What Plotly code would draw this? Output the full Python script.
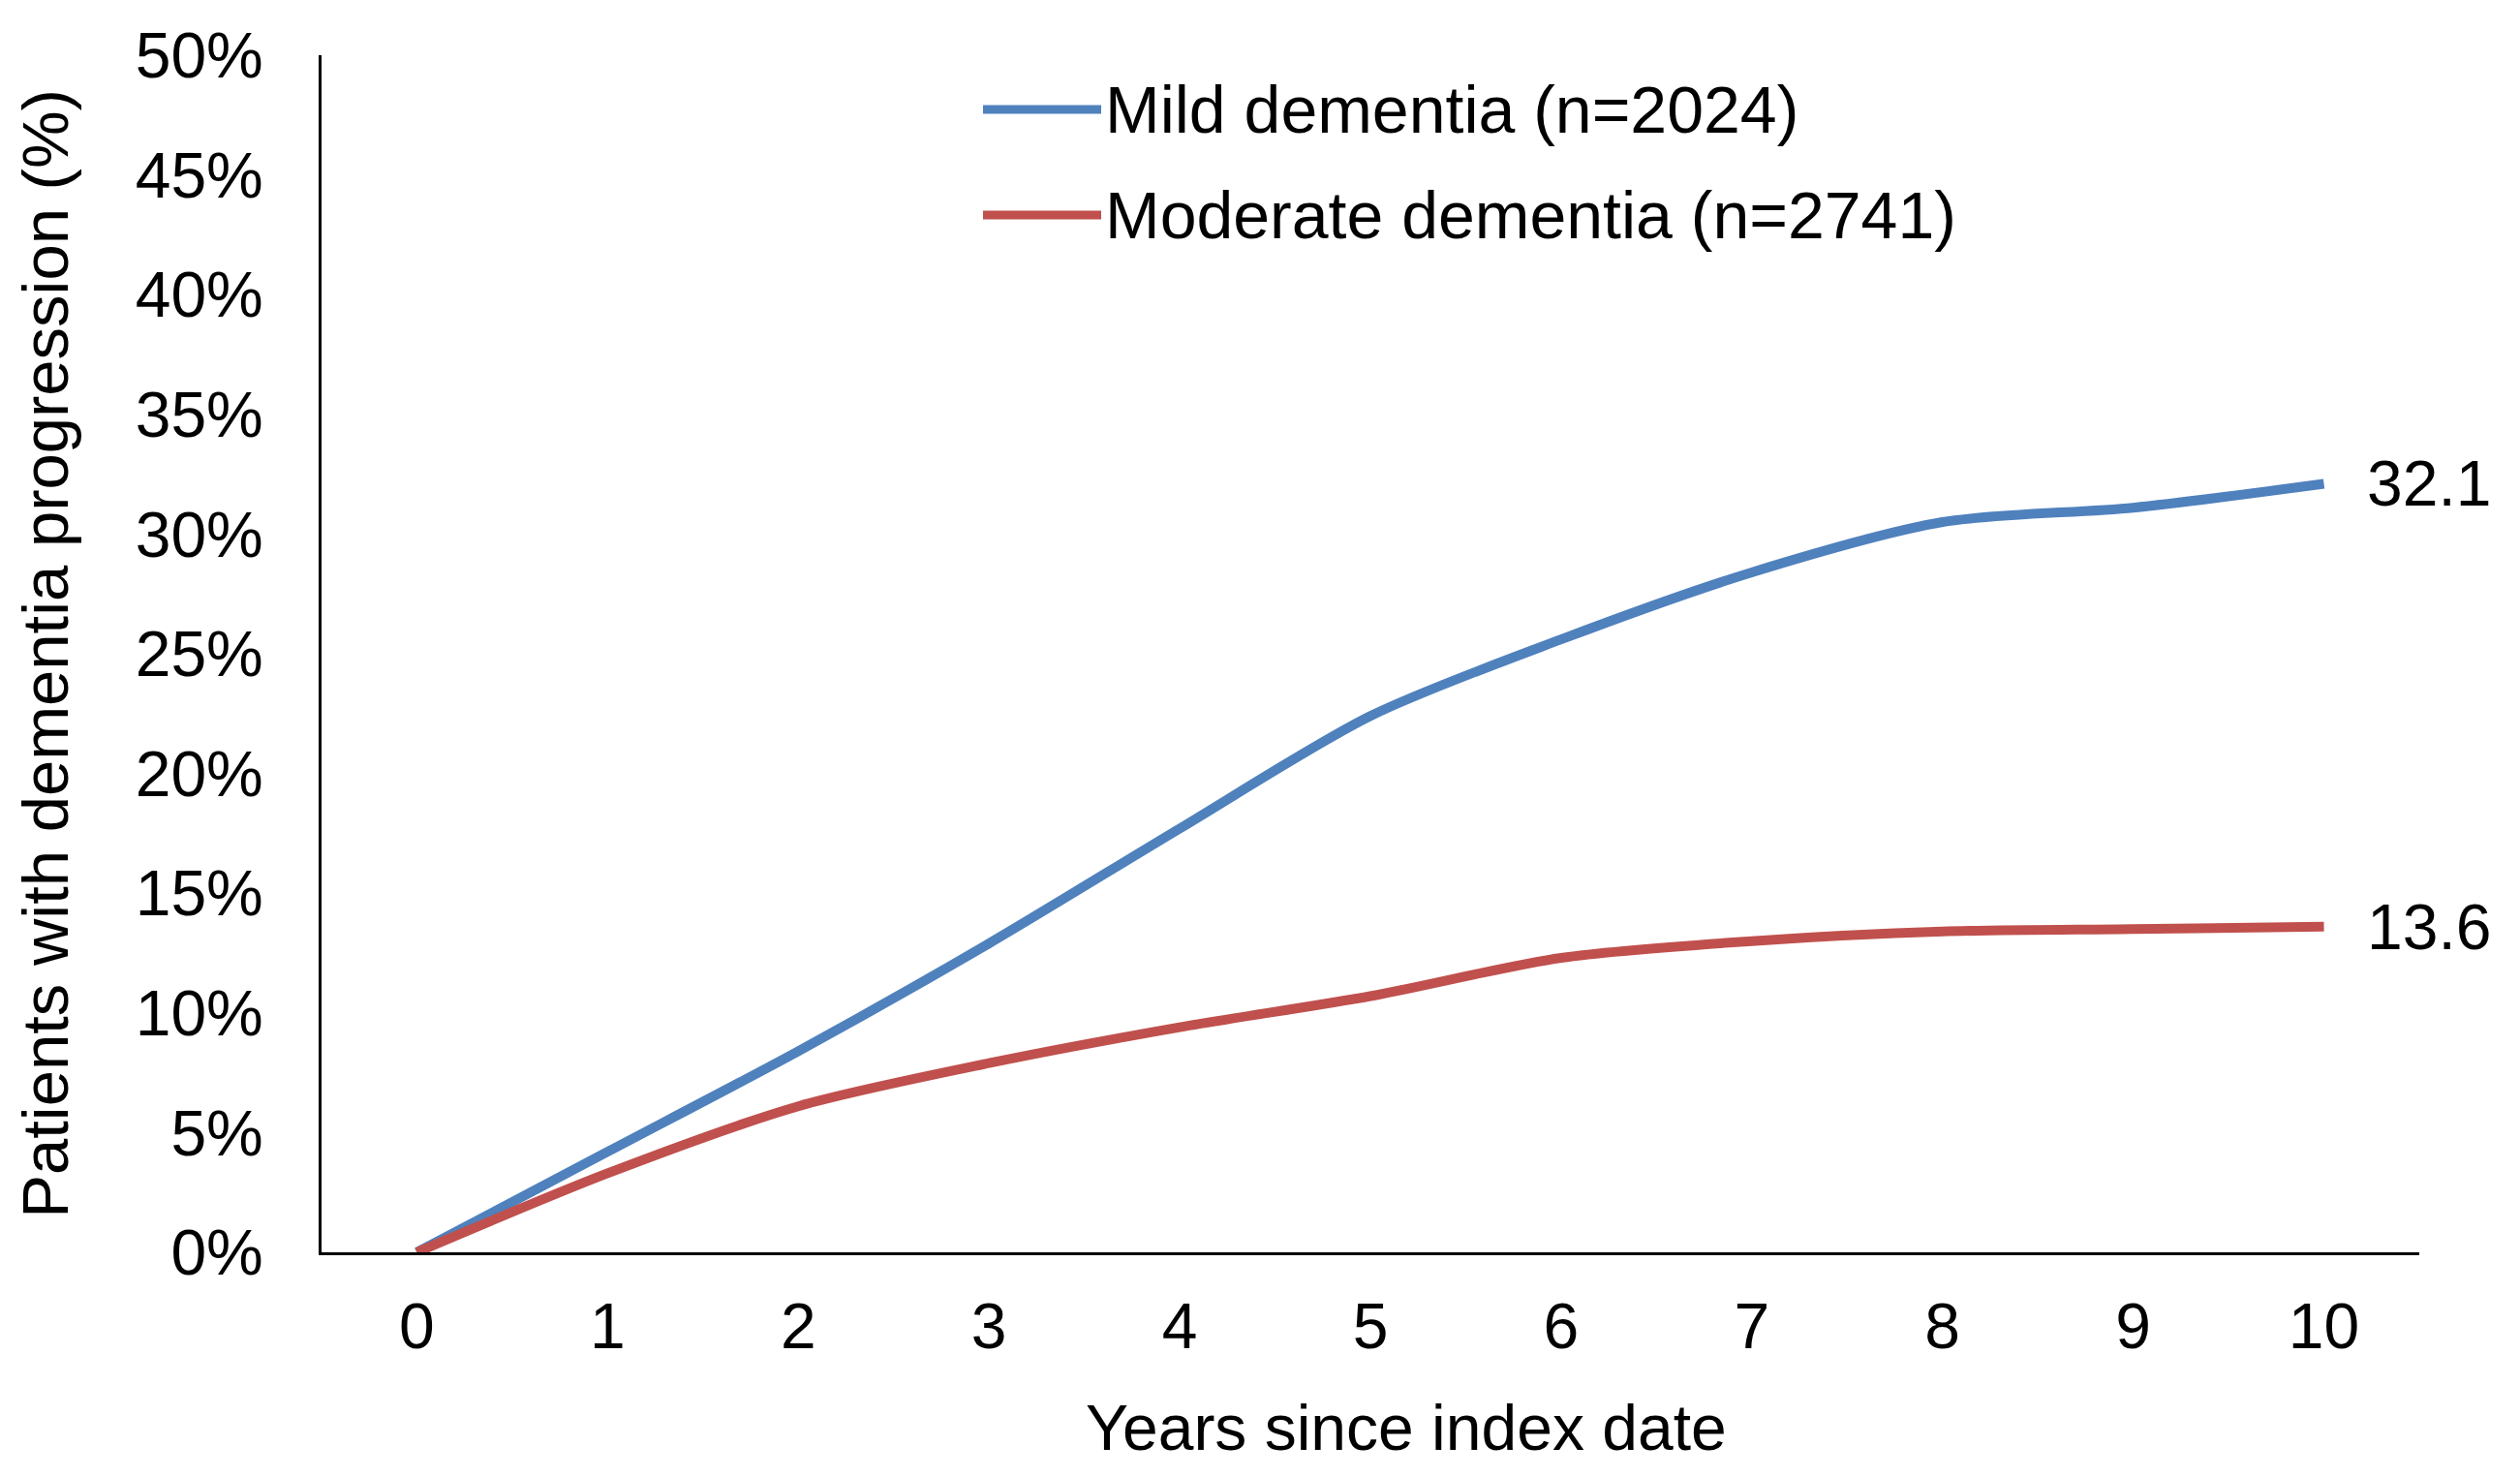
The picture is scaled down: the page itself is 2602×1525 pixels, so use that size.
import plotly.graph_objects as go

years = [0, 1, 2, 3, 4, 5, 6, 7, 8, 9, 10]
mild = [0, 4.2, 8.4, 12.9, 17.7, 22.4, 25.6, 28.4, 30.5, 31.1, 32.1]
moderate = [0, 3.3, 6.1, 7.9, 9.4, 10.7, 12.3, 13.0, 13.4, 13.5, 13.6]
series_names = ["Mild dementia (n=2024)", "Moderate dementia (n=2741)"]
series_colors = ["#4F81BD", "#C0504D"]
y_ticks = [0, 5, 10, 15, 20, 25, 30, 35, 40, 45, 50]
y_ticktext = [f"{v}%" for v in y_ticks]
x_title = "Years since index date"
y_title = "Patients with dementia progression (%)"

FONT = "Liberation Sans, Arial, sans-serif"
# page body has an 8px default margin, so the figure is 16px smaller
W, H = 2594, 1517
L, R, T, B = 324, 104, 49, 232
pw, ph = W - L - R, H - T - B
OFF = 8  # body margin offset (screen px)


def px_to_paper_x(px):
    return (px - OFF - L) / pw


def px_to_paper_y(py):
    return (H - B - (py - OFF)) / ph


fig = go.Figure()
for vals, name, col in zip([mild, moderate], series_names, series_colors):
    fig.add_trace(go.Scatter(
        x=years, y=vals, mode="lines", name=name,
        line=dict(color=col, width=10, shape="spline", smoothing=0.8),
        showlegend=False, cliponaxis=False,
    ))
    fig.add_annotation(
        x=years[-1], y=vals[-1], xref="x", yref="y",
        text=f"{vals[-1]}", showarrow=False, xanchor="left", yanchor="middle",
        xshift=42, font=dict(family=FONT, size=66, color="black"),
    )

# custom legend (long line samples), positions given in screen px
leg_y_px = [113, 222]
for name, col, ypx in zip(series_names, series_colors, leg_y_px):
    yp = px_to_paper_y(ypx)
    fig.add_shape(type="line", xref="paper", yref="paper",
                  x0=px_to_paper_x(1015), x1=px_to_paper_x(1137), y0=yp, y1=yp,
                  line=dict(color=col, width=9))
    fig.add_annotation(xref="paper", yref="paper", x=px_to_paper_x(1139), y=yp,
                       text=name, showarrow=False, xanchor="left", yanchor="middle",
                       font=dict(family=FONT, size=68, color="black"))

# x-axis title (slightly right of the plot centre, as in the original)
fig.add_annotation(xref="paper", yref="paper", x=px_to_paper_x(1452),
                   y=px_to_paper_y(1474), text=x_title, showarrow=False,
                   xanchor="center", yanchor="middle",
                   font=dict(family=FONT, size=66, color="black"))

fig.update_layout(
    width=W, height=H,
    margin=dict(l=L, r=R, t=T, b=B, autoexpand=False),
    paper_bgcolor="white", plot_bgcolor="white",
    font=dict(family=FONT, size=66, color="black"),
    xaxis=dict(
        range=[-0.5, 10.5], tickmode="array", tickvals=years,
        ticktext=[str(v) for v in years],
        showline=True, linecolor="black", linewidth=3, showgrid=False,
        zeroline=False, ticks="", ticklabelstandoff=17,
        tickfont=dict(family=FONT, size=66, color="black"),
    ),
    yaxis=dict(
        range=[0, 50], tickmode="array", tickvals=y_ticks, ticktext=y_ticktext,
        showline=True, linecolor="black", linewidth=3, showgrid=False,
        zeroline=False, ticks="", ticklabelstandoff=44,
        tickfont=dict(family=FONT, size=66, color="black"),
        title=dict(text=y_title, font=dict(family=FONT, size=67, color="black"),
                   standoff=48),
    ),
)

fig.write_html("out.html")
